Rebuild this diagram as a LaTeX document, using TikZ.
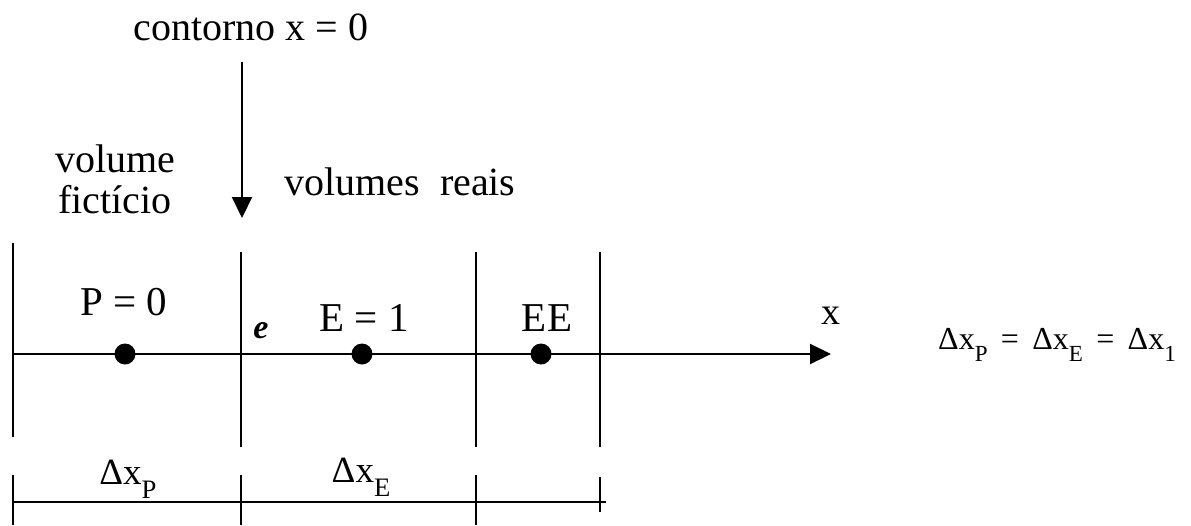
\documentclass[tikz,border=0pt]{standalone}
\usepackage{fontspec}
\usepackage{graphicx}
\setmainfont{Liberation Serif}
\usetikzlibrary{arrows.meta}
\newcommand\sbs[1]{\raisebox{-0.38em}{\scalebox{0.72}{#1}}}
\begin{document}
\begin{tikzpicture}[x=1pt,y=-1pt,line width=2.2pt,
  lbl/.style={anchor=base,inner sep=0pt,font=\fontsize{40}{48}\selectfont},
  big/.style={anchor=base,inner sep=0pt,font=\fontsize{41}{48}\selectfont},
  dlbl/.style={anchor=base,inner sep=0pt,font=\fontsize{37}{44}\selectfont},
  dot/.style={circle,fill=black,draw=none,minimum size=21pt,inner sep=0pt},
  tip/.style={-{Triangle[length=21pt,width=20pt]}}]
\useasboundingbox (0,0) rectangle (1191,525);
% labels on top
\node[lbl] (cont) at (251,40) {contorno x = 0};
\coordinate (t0) at (242,62);
\coordinate (t1) at (242,218);
\draw[tip] (t0) -- (t1);
\node[lbl] (vol1) at (115,172) {volume};
\node[lbl] (vol2) at (115,213) {fictício};
\node[lbl] (reais) at (400,195) {volumes\ \ reais};
% grid lines
\coordinate (l0t) at (13,243); \coordinate (l0b) at (13,437);
\coordinate (l1t) at (241,252); \coordinate (l1b) at (241,447);
\coordinate (l2t) at (476,252); \coordinate (l2b) at (476,447);
\coordinate (l3t) at (600,252); \coordinate (l3b) at (600,447);
\draw (l0t) -- (l0b);
\draw (l1t) -- (l1b);
\draw (l2t) -- (l2b);
\draw (l3t) -- (l3b);
% axis
\coordinate (a0) at (13,354);
\coordinate (a1) at (831,354);
\draw[tip] (a0) -- (a1);
\node[dot] (P) at (125,354) {};
\node[dot] (E) at (362,354) {};
\node[dot] (EE) at (541,354) {};
\node[big] (Pl) at (124,315) {P = 0};
\node[big] (El) at (364,331) {E = 1};
\node[big] (EEl) at (547,331) {EE};
\node[anchor=base,inner sep=0pt,font=\fontsize{34}{40}\selectfont\itshape\bfseries] (el) at (261,338) {e};
\node[anchor=base,inner sep=0pt,font=\fontsize{38}{44}\selectfont] (xl) at (831,324) {x};
\node[anchor=base,inner sep=0pt,font=\fontsize{32}{38}\selectfont] (form) at (1057,349) {Δx\sbs{P} \,=\, Δx\sbs{E} \,=\, Δx\sbs{1}};
% dimension line
\coordinate (d0) at (13,502); \coordinate (d1) at (606,502);
\draw (d0) -- (d1);
\coordinate (k0t) at (13,475); \coordinate (k0b) at (13,525);
\coordinate (k1t) at (241,475); \coordinate (k1b) at (241,525);
\coordinate (k2t) at (476,475); \coordinate (k2b) at (476,525);
\coordinate (k3t) at (600,477); \coordinate (k3b) at (600,512);
\draw (k0t) -- (k0b);
\draw (k1t) -- (k1b);
\draw (k2t) -- (k2b);
\draw (k3t) -- (k3b);
\node[dlbl] (dxp) at (128,484) {Δx\sbs{P}};
\node[dlbl] (dxe) at (361,482) {Δx\sbs{E}};
\end{tikzpicture}
\end{document}
